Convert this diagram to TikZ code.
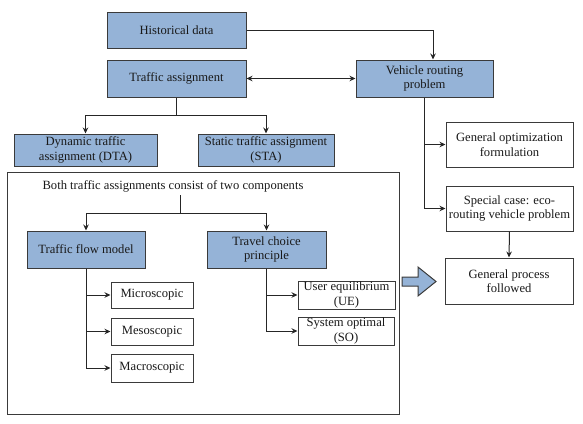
\documentclass[tikz,border=0pt]{standalone}
\usepackage{fontspec}
\setmainfont{Liberation Serif}
\usetikzlibrary{arrows.meta,calc}
\definecolor{boxblue}{HTML}{95B3D7}
\definecolor{edge}{HTML}{3A3A3A}
\tikzset{
  base/.style={draw=edge,line width=1pt,inner sep=0pt,align=center,font=\fontsize{12.6}{14.5}\selectfont,text=black!90},
  bluebox/.style={base,fill=boxblue},
  whitebox/.style={base,fill=white},
  arr/.style={draw=black!85,line width=1pt,-{Stealth[length=6pt,width=5.5pt]}},
  ln/.style={draw=black!85,line width=1pt},
}
\begin{document}
\begin{tikzpicture}[x=1pt,y=-1pt]
\useasboundingbox (0,0) rectangle (583,423);
% big container
\node[draw=edge,line width=1pt,minimum width=392pt,minimum height=242pt,inner sep=0pt] (big) at (203,293) {};
\node[base,draw=none,inner sep=0pt] (both) at (173,186) {Both traffic assignments consist of two components};

\node[bluebox,minimum width=139pt,minimum height=36pt] (hist) at (176.5,30) {Historical data};
\node[bluebox,minimum width=139pt,minimum height=37pt] (ta) at (176.5,78.5) {Traffic assignment};
\node[bluebox,minimum width=143pt,minimum height=32pt] (dta) at (85.5,150) {Dynamic traffic\\assignment (DTA)};
\node[bluebox,minimum width=136pt,minimum height=32pt] (sta) at (266,150) {Static traffic assignment\\(STA)};
\node[bluebox,minimum width=118pt,minimum height=37pt] (tfm) at (86,249.5) {Traffic flow model};
\node[bluebox,minimum width=119pt,minimum height=37pt] (tcp) at (266.5,249.5) {Travel choice\\principle};
\node[whitebox,minimum width=82pt,minimum height=26pt] (micro) at (152,295) {Microscopic};
\node[whitebox,minimum width=82pt,minimum height=27pt] (meso) at (152,331.5) {Mesoscopic};
\node[whitebox,minimum width=82pt,minimum height=28pt] (macro) at (152,368) {Macroscopic};
\node[whitebox,minimum width=97pt,minimum height=28pt] (ue) at (346.5,295) {User equilibrium\\(UE)};
\node[whitebox,minimum width=96pt,minimum height=28pt] (so) at (346,331) {System optimal\\(SO)};
\node[bluebox,minimum width=137pt,minimum height=37pt] (vrp) at (424.5,78.5) {Vehicle routing\\problem};
\node[whitebox,minimum width=127pt,minimum height=45pt] (gof) at (509.5,144.5) {General optimization\\formulation};
\node[whitebox,minimum width=127pt,minimum height=45pt] (sc) at (509.5,208.5) {Special case: eco-\\routing vehicle problem};
\node[whitebox,minimum width=128pt,minimum height=46pt] (gp) at (509,281) {General process\\followed};

% connectors
\draw[arr] (hist.east) -| ([xshift=8.5pt]vrp.north);
\draw[line width=1pt,draw=black!85,{Stealth[length=6pt,width=5.5pt]}-{Stealth[length=6pt,width=5.5pt]}] (ta.east) -- (vrp.west);
\coordinate (taj) at ($(ta.south)+(0,18)$);
\draw[ln] (ta.south) -- (taj);
\draw[arr] (taj) -| (dta.north);
\draw[arr] (taj) -| (sta.north);
\coordinate (bj) at (180,213);
\draw[ln] (180,195) -- (bj);
\draw[arr] (bj) -| (tfm.north);
\draw[arr] (bj) -| (tcp.north);
\draw[arr] (tfm.south) |- (micro.west);
\draw[arr] (tfm.south) |- (meso.west);
\draw[arr] (tfm.south) |- (macro.west);
\draw[arr] (tcp.south) |- (ue.west);
\draw[arr] (tcp.south) |- (so.west);
\draw[arr] (vrp.south) |- (gof.west);
\draw[arr] (vrp.south) |- (sc.west);
\draw[arr] (sc.south) -- (gp.north);
% block arrow
\draw[draw=edge,line width=1pt,fill=boxblue,line join=miter]
  (402,277) -- (418,277) -- (418,267) -- (436,281.5) -- (418,296) -- (418,286) -- (402,286) -- cycle;
\end{tikzpicture}
\end{document}
